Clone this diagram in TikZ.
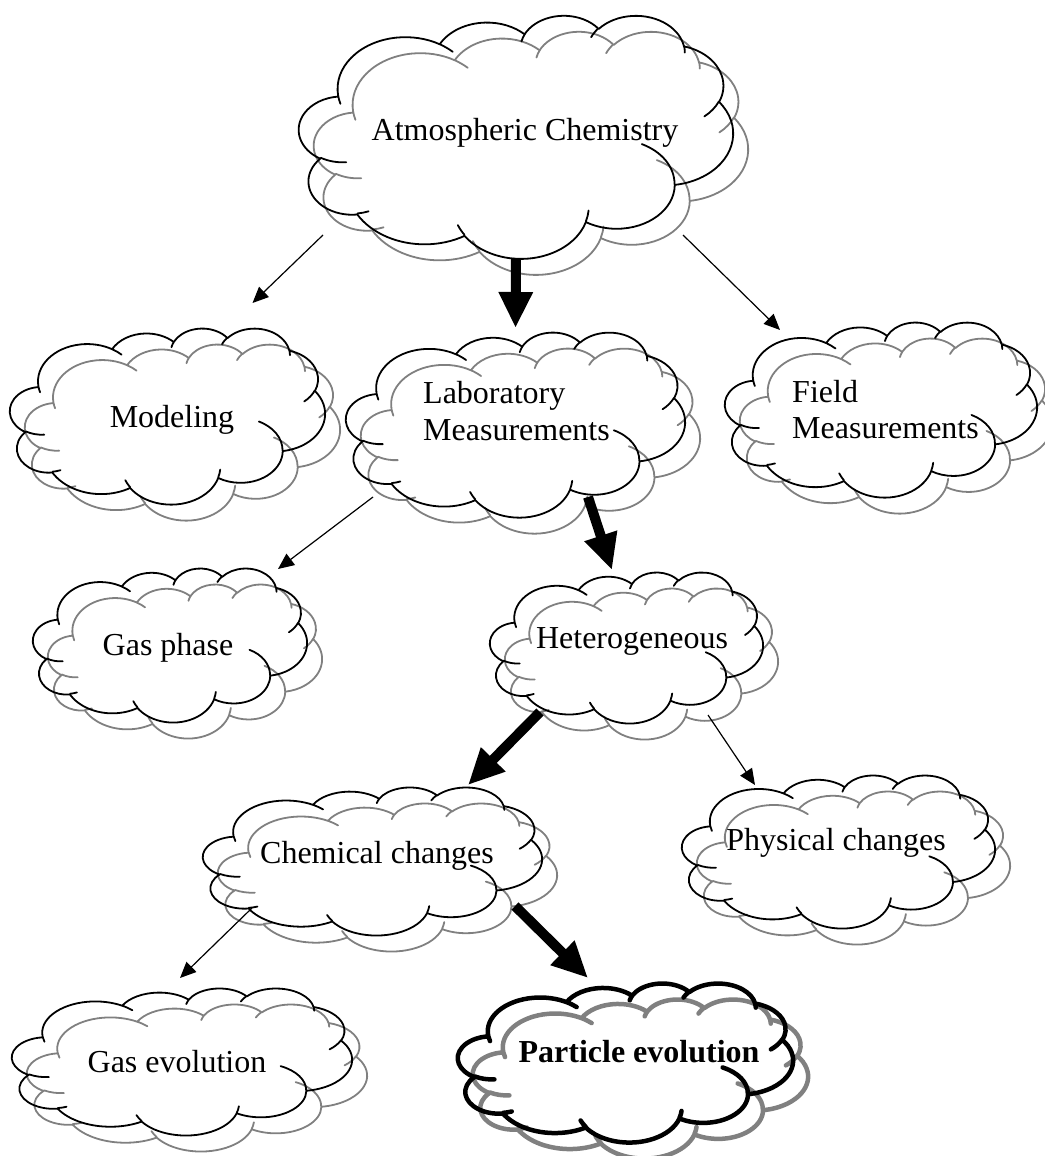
\documentclass[tikz,border=0pt]{standalone}
\usepackage{fontspec}
\setmainfont{Liberation Serif}
\usetikzlibrary{arrows.meta}

% one elliptic piece of the cloud outline (radii, start angle, sweep)
\newcommand{\ooarc}[4]{%
  \pgfmathsetmacro\cldA{atan2(#1*sin(#3),#2*cos(#3))}%
  \pgfmathsetmacro\cldB{atan2(#1*sin(#3+#4),#2*cos(#3+#4))}%
  \pgfmathsetmacro\cldB{\cldA+mod(\cldB-\cldA+720,360)}%
  \pgfpatharc{\cldA}{\cldB}{#1pt and #2pt}}
\newcommand{\cloudcrease}[6]{%
  \pgfpathmoveto{\pgfpoint{#1pt}{#2pt}}\ooarc{#3}{#4}{#5}{#6}}
% cloud in a 432 x 432 box
\newcommand{\cloudpath}{%
  \pgfpathmoveto{\pgfpoint{39pt}{143.7pt}}%
  \ooarc{67.53}{91.90}{-190.4875}{123.7805}%
  \ooarc{53.33}{72.67}{-144.1024}{89.9452}%
  \ooarc{43.65}{59.45}{-145.8079}{99.7230}%
  \ooarc{48.57}{65.95}{-130.9861}{117.2417}%
  \ooarc{53.33}{72.73}{-78.7089}{109.0269}%
  \ooarc{67.75}{92.20}{-46.2673}{130.2690}%
  \ooarc{57.85}{78.67}{0.6250}{114.0333}%
  \ooarc{67.52}{92.15}{22.4516}{115.1726}%
  \ooarc{77.20}{105.43}{66.2426}{75.7110}%
  \ooarc{43.60}{59.18}{-274.9421}{146.7356}%
  \ooarc{43.45}{59.45}{-246.8285}{152.5189}%
  \pgfpathclose
  \cloudcrease{46.93}{261.77}{43.45}{59.45}{86.7420}{26.4295}%
  \cloudcrease{69.28}{348.99}{43.60}{59.18}{73.6105}{11.4475}%
  \cloudcrease{164.78}{390.90}{67.52}{92.15}{137.6242}{14.0811}%
  \cloudcrease{288.27}{347.51}{67.52}{92.15}{6.4533}{15.9984}%
  \cloudcrease{341.29}{229.54}{57.85}{78.67}{-70.2924}{70.9174}%
  \cloudcrease{417.98}{153.54}{53.33}{72.73}{30.3180}{27.7515}%
  \cloudcrease{383.24}{54.26}{48.57}{65.95}{-13.7443}{14.8589}%
  \cloudcrease{290.78}{39.52}{48.57}{65.95}{-149.1815}{18.1954}%
  \cloudcrease{221.41}{47.20}{43.65}{59.45}{-163.4943}{17.6864}%
  \cloudcrease{140.00}{51.92}{67.53}{91.90}{-66.7070}{12.3194}%
  \cloudcrease{41.27}{157.89}{67.53}{91.90}{157.6544}{11.8582}%
}
\newcommand{\wordcloud}[5]{%
  \begin{scope}[shift={(#1,#2)},xscale=#3/432,yscale=-#4/432,#5]
    \cloudpath
    \pgfusepath{stroke}
  \end{scope}}
% name, left, top, width, height (gray copy behind)
\newcommand{\cloudnode}[6][1.8pt]{%
  \node[cloudbox,minimum width=#5pt,minimum height=#6pt,anchor=north west] (#2) at (#3,#4) {};
  \wordcloud{#3+15}{#4+16}{#5}{#6}{color=black!50,line width=#1}
  \wordcloud{#3}{#4}{#5}{#6}{color=black,line width=#1}}

\tikzset{
  cloudbox/.style={rectangle,inner sep=0pt,outer sep=0pt},
  lbl/.style={inner sep=0pt,font=\fontsize{32}{37}\selectfont},
  thinarr/.style={line width=1.2pt,line cap=butt,-{Triangle[length=16pt,width=14pt]}},
  fatarr/.style={line width=10pt,line cap=butt,-{Triangle[length=36pt,width=32pt]}}
}

\begin{document}
\begin{tikzpicture}[line cap=round,line join=round,x=1pt,y=-1pt]
\useasboundingbox (0,0) rectangle (1044,1156);
\cloudnode{atm}{299}{15}{434}{243}
\cloudnode{model}{10}{328}{315}{176}
\cloudnode{lab}{346}{332}{339}{185}
\cloudnode{field}{725}{322}{312}{175}
\cloudnode{gasph}{33}{568}{274}{154}
\cloudnode{het}{490}{572}{273}{151}
\cloudnode{chem}{203}{787}{339}{148}
\cloudnode{phys}{682}{775}{313}{153}
\cloudnode{gasev}{12}{988}{340}{147}
\cloudnode[4.5pt]{part}{458}{983}{335}{159}

\node[lbl,anchor=base] (atm-t) at (525,140) {Atmospheric Chemistry};
\node[lbl,anchor=base] (model-t) at (172,427) {Modeling};
\node[lbl,anchor=base west] (lab-t1) at (423,403) {Laboratory};
\node[lbl,anchor=base west] (lab-t2) at (423,440) {Measurements};
\node[lbl,anchor=base west] (field-t1) at (792,402) {Field};
\node[lbl,anchor=base west] (field-t2) at (792,438) {Measurements};
\node[lbl,anchor=base] (gasph-t) at (168,655) {Gas phase};
\node[lbl,anchor=base] (het-t) at (632,648) {Heterogeneous};
\node[lbl,anchor=base] (chem-t) at (377,863) {Chemical changes};
\node[lbl,anchor=base] (phys-t) at (836,850) {Physical changes};
\node[lbl,anchor=base] (gasev-t) at (177,1072) {Gas evolution};
\node[lbl,anchor=base,font=\fontsize{32}{37}\selectfont\bfseries] (part-t) at (639,1062) {Particle evolution};

\draw[thinarr] ([shift={(24,-23)}]atm.south west) -- ([shift={(85,-25)}]model.north);
\draw[fatarr] (atm.south) -- ([shift={(0,-4)}]lab.north);
\draw[thinarr] ([shift={(-50,-23)}]atm.south east) -- ([shift={(55,8)}]field.north west);
\draw[thinarr] ([shift={(27,-20)}]lab.south west) -- ([shift={(-29,1)}]gasph.north east);
\draw[fatarr] ([shift={(-97,-20)}]lab.south east) -- ([shift={(-14.5,-2)}]het.north);
\draw[fatarr] ([shift={(50,-11)}]het.south west) -- ([shift={(95.5,-2)}]chem.north);
\draw[thinarr] ([shift={(-55,-8)}]het.south east) -- ([shift={(73,10)}]phys.north west);
\draw[thinarr] ([shift={(49,-27)}]chem.south west) -- ([shift={(-2,-10)}]gasev.north);
\draw[fatarr] ([shift={(-27,-29)}]chem.south east) -- ([shift={(-37.5,-5)}]part.north);
\end{tikzpicture}
\end{document}
